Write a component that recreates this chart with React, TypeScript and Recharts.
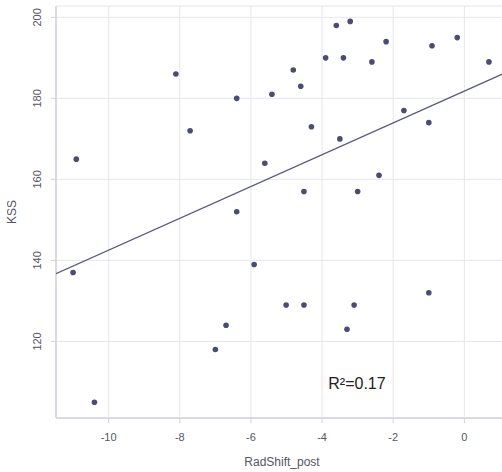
import React from 'react';
import {
  ScatterChart, Scatter, XAxis, YAxis, CartesianGrid, Line, ReferenceDot, Label,
} from 'recharts';

const radShift = [
  -10.91, -11.0, -10.4, -8.11, -7.71, -7.0, -6.7, -6.4, -6.4, -5.91, -5.61, -5.41,
  -5.01, -4.81, -4.6, -4.51, -4.51, -4.3, -3.9, -3.6, -3.5, -3.4, -3.3, -3.21,
  -3.1, -3.0, -2.6, -2.4, -2.2, -1.7, -1.0, -1.0, -0.91, -0.2, 0.69,
];
const kss = [
  165, 137, 105, 186, 172, 118, 124, 180, 152, 139, 164, 181,
  129, 187, 183, 157, 129, 173, 190, 198, 170, 190, 123, 199,
  129, 157, 189, 161, 194, 177, 174, 132, 193, 195, 189,
];
const trendX = [-11.48, 1.17];
const trendY = [136.7, 186.4];
const xTicks = [-10, -8, -6, -4, -2, 0];
const yTicks = [120, 140, 160, 180, 200];
const annotation = { x: -3.02, y: 109.7, text: 'R²=0.17' };

const points = radShift.map((x, i) => ({ x, y: kss[i] }));
const trend = trendX.map((x, i) => ({ x, y: trendY[i] }));

const FONT = 'Arial, "Liberation Sans", Helvetica, sans-serif';
const DOT = '#4b4b78';
const TICK_COLOR = '#555566';
const FRAME = '#d2d2da';
const GRID = '#e6e6ee';

const YTick = (props: any) => {
  const { y, payload } = props;
  const cx = 37;
  return (
    <text
      x={cx}
      y={y}
      transform={`rotate(-90 ${cx} ${y})`}
      textAnchor="middle"
      dy="0.35em"
      fontSize={11}
      fontFamily={FONT}
      fill={TICK_COLOR}
    >
      {payload.value}
    </text>
  );
};

const XTick = (props: any) => {
  const { x, payload } = props;
  return (
    <text x={x} y={441} textAnchor="middle" fontSize={11} fontFamily={FONT} fill={TICK_COLOR}>
      {payload.value}
    </text>
  );
};

const Dot = (props: any) => {
  const { cx, cy } = props;
  return <circle cx={cx} cy={cy} r={2.8} fill={DOT} />;
};

export default function App() {
  return (
    <div style={{ position: 'absolute', left: 0, top: 0, width: 502, height: 472, overflow: 'hidden', background: '#fff' }}>
      <ScatterChart
        width={506}
        height={472}
        margin={{ top: 6, right: 0, bottom: 0, left: 0 }}
      >
        <CartesianGrid stroke={GRID} strokeWidth={1} />
        <XAxis
          type="number"
          dataKey="x"
          domain={[-11.48, 1.17]}
          ticks={xTicks}
          allowDataOverflow
          height={54}
          tick={<XTick />}
          tickSize={5}
          tickLine={{ stroke: FRAME }}
          axisLine={{ stroke: FRAME, strokeWidth: 1.5 }}
        >
          <Label
            content={() => (
              <text x={282} y={466} textAnchor="middle" fontSize={12} fontFamily={FONT} fill={TICK_COLOR}>
                RadShift_post
              </text>
            )}
          />
        </XAxis>
        <XAxis
          xAxisId="top"
          orientation="top"
          type="number"
          dataKey="x"
          domain={[-11.48, 1.17]}
          allowDataOverflow
          height={0}
          tick={false}
          tickLine={false}
          axisLine={{ stroke: FRAME, strokeWidth: 1.5 }}
        />
        <YAxis
          type="number"
          dataKey="y"
          domain={[101.1, 202.8]}
          ticks={yTicks}
          allowDataOverflow
          width={56}
          tick={<YTick />}
          tickSize={5}
          tickLine={{ stroke: FRAME }}
          axisLine={{ stroke: FRAME, strokeWidth: 1.5 }}
        >
          <Label
            content={() => (
              <text
                x={12}
                y={212}
                transform="rotate(-90 12 212)"
                textAnchor="middle"
                dy="0.35em"
                fontSize={12}
                fontFamily={FONT}
                fill={TICK_COLOR}
              >
                KSS
              </text>
            )}
          />
        </YAxis>
        <Scatter
          data={trend}
          line={{ stroke: '#5a5a82', strokeWidth: 1.2 }}
          shape={() => null}
          isAnimationActive={false}
        />
        <Scatter data={points} shape={<Dot />} isAnimationActive={false} />
        <ReferenceDot
          x={annotation.x}
          y={annotation.y}
          r={0}
          stroke="none"
          fill="none"
          label={(p: any) => (
            <text
              x={p.viewBox ? p.viewBox.x + p.viewBox.width / 2 : 0}
              y={p.viewBox ? p.viewBox.y + p.viewBox.height / 2 : 0}
              dy="0.35em"
              textAnchor="middle"
              fontSize={16}
              fontFamily={FONT}
              fill="#222"
            >
              {annotation.text}
            </text>
          )}
        />
      </ScatterChart>
    </div>
  );
}
